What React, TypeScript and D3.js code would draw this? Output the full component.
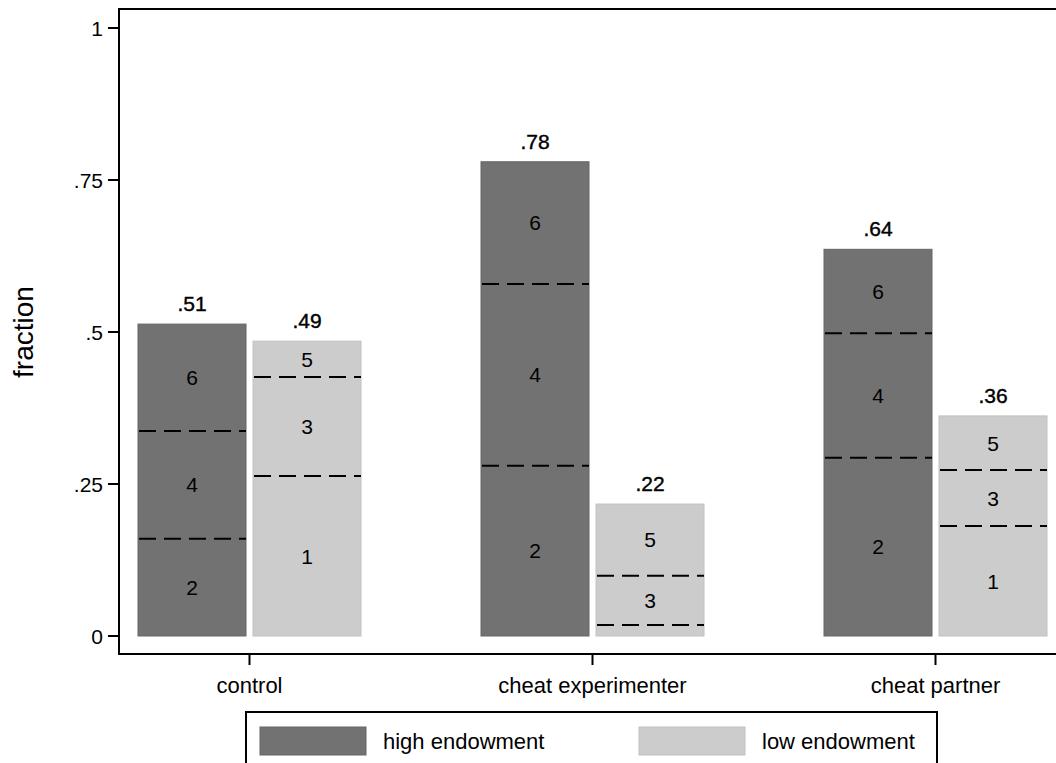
import React from "react";
import * as d3 from "d3";

const categories = ["control", "cheat experimenter", "cheat partner"];
const highTotals = [0.513, 0.78, 0.636];
const lowTotals = [0.485, 0.217, 0.362];
const highLabels = [".51", ".78", ".64"];
const lowLabels = [".49", ".22", ".36"];
// cumulative boundaries between segments (bottom to top)
const highBounds = [[0.16, 0.337], [0.28, 0.579], [0.293, 0.498]];
const lowBounds = [[0.263, 0.426], [0.018, 0.099], [0.181, 0.273]];
const highSegLabels = [["2", "4", "6"], ["2", "4", "6"], ["2", "4", "6"]];
const lowSegLabels = [["1", "3", "5"], ["3", "5"], ["1", "3", "5"]];
const yTicks = [0, 0.25, 0.5, 0.75, 1];
const yTickLabels = ["0", ".25", ".5", ".75", "1"];
const legendItems = ["high endowment", "low endowment"];

const W = 1056;
const H = 763;
const font = "Arial, 'Liberation Sans', sans-serif";
const darkFill = "#727272";
const darkStroke = "#666666";
const lightFill = "#cccccc";
const lightStroke = "#c2c2c2";

export default function App() {
  const y = d3.scaleLinear().domain([0, 1]).range([636, 28]);
  const x = d3.scalePoint<string>().domain(categories).range([249.5, 935.5]);
  const barW = 108;
  const gap = 3.5;
  const axisX = 119;
  const axisY = 654;
  const topY = 9;

  const renderBar = (
    left: number,
    total: number,
    bounds: number[],
    segLabels: string[],
    label: string,
    fill: string,
    stroke: string,
    key: string
  ) => {
    const edges = [0, ...bounds, total];
    const segs: { lo: number; hi: number }[] = [];
    for (let i = 0; i < edges.length - 1; i++) segs.push({ lo: edges[i], hi: edges[i + 1] });
    const offset = segs.length - segLabels.length;
    return (
      <g key={key}>
        <rect x={left} y={y(total)} width={barW} height={y(0) - y(total)} fill={fill} stroke={stroke} strokeWidth={1} />
        {bounds.map((b, i) => (
          <line
            key={i}
            x1={left + 1}
            x2={left + barW}
            y1={y(b)}
            y2={y(b)}
            stroke="#000"
            strokeWidth={2}
            strokeDasharray="17 8"
          />
        ))}
        {segs.map((s, i) =>
          i >= offset ? (
            <text
              key={"t" + i}
              x={left + barW / 2}
              y={y((s.lo + s.hi) / 2)}
              dy="0.36em"
              textAnchor="middle"
              fontSize={21}
              fontFamily={font}
              fill="#000"
            >
              {segLabels[i - offset]}
            </text>
          ) : null
        )}
        <text
          x={left + barW / 2}
          y={y(total) - 13}
          textAnchor="middle"
          fontSize={21}
          fontFamily={font}
          fill="#000"
          stroke="#000"
          strokeWidth={0.4}
        >
          {label}
        </text>
      </g>
    );
  };

  return (
    <svg width={W} height={H} style={{ position: "absolute", left: 0, top: 0 }}>
      <rect x={0} y={0} width={W} height={H} fill="#fff" />
      {/* frame */}
      <line x1={axisX} x2={W} y1={topY} y2={topY} stroke="#000" strokeWidth={2} />
      <line x1={axisX} x2={axisX} y1={topY - 1} y2={axisY + 1} stroke="#000" strokeWidth={2} />
      <line x1={axisX - 1} x2={W} y1={axisY} y2={axisY} stroke="#000" strokeWidth={2} />
      {/* y ticks */}
      {yTicks.map((t, i) => (
        <g key={i}>
          <line x1={axisX - 11} x2={axisX} y1={y(t)} y2={y(t)} stroke="#000" strokeWidth={2} />
          <text x={axisX - 16} y={y(t)} dy="0.36em" textAnchor="end" fontSize={21} fontFamily={font} fill="#000">
            {yTickLabels[i]}
          </text>
        </g>
      ))}
      <text
        transform={`translate(33, ${y(0.5)}) rotate(-90)`}
        textAnchor="middle"
        fontSize={28}
        fontFamily={font}
        fill="#000"
      >
        fraction
      </text>
      {/* x ticks */}
      {categories.map((c) => (
        <g key={c}>
          <line x1={x(c)!} x2={x(c)!} y1={axisY} y2={axisY + 11} stroke="#000" strokeWidth={2} />
          <text x={x(c)!} y={axisY + 39} textAnchor="middle" fontSize={22} fontFamily={font} fill="#000">
            {c}
          </text>
        </g>
      ))}
      {/* bars */}
      {categories.map((c, i) => {
        const cx = x(c)!;
        return (
          <g key={c}>
            {renderBar(cx - gap - barW, highTotals[i], highBounds[i], highSegLabels[i], highLabels[i], darkFill, darkStroke, "h" + i)}
            {renderBar(cx + gap, lowTotals[i], lowBounds[i], lowSegLabels[i], lowLabels[i], lightFill, lightStroke, "l" + i)}
          </g>
        );
      })}
      {/* legend */}
      <rect x={246} y={712} width={691} height={70} fill="#fff" stroke="#000" strokeWidth={2} />
      <rect x={260} y={727} width={106} height={28} fill={darkFill} stroke={darkStroke} strokeWidth={1} />
      <text x={383} y={749} fontSize={22} fontFamily={font} fill="#000">
        {legendItems[0]}
      </text>
      <rect x={639} y={727} width={106} height={28} fill={lightFill} stroke={lightStroke} strokeWidth={1} />
      <text x={762} y={749} fontSize={22} fontFamily={font} fill="#000">
        {legendItems[1]}
      </text>
    </svg>
  );
}
